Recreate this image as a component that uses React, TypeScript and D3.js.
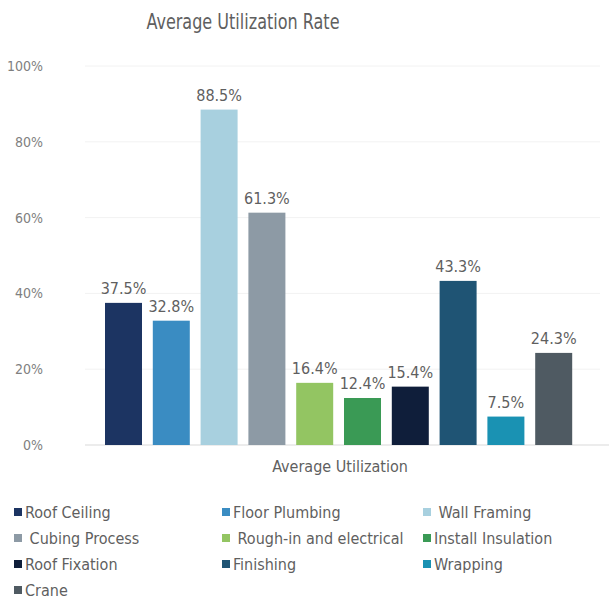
import React from "react";
import * as d3 from "d3";

const categories = [
  "Roof Ceiling",
  "Floor Plumbing",
  "Wall Framing",
  "Cubing Process",
  "Rough-in and electrical",
  "Install Insulation",
  "Roof Fixation",
  "Finishing",
  "Wrapping",
  "Crane",
];
const values = [37.5, 32.8, 88.5, 61.3, 16.4, 12.4, 15.4, 43.3, 7.5, 24.3];
const colors = [
  "#1c3462",
  "#3a8cc2",
  "#a8d0df",
  "#8d9aa5",
  "#93c562",
  "#3a9a55",
  "#0f1e3a",
  "#1f5474",
  "#1a92b3",
  "#4f5a62",
];
const yTicks = [0, 20, 40, 60, 80, 100];
const legendLabels = [
  "Roof Ceiling",
  "Floor Plumbing",
  " Wall Framing",
  " Cubing Process",
  " Rough-in and electrical",
  "Install Insulation",
  "Roof Fixation",
  "Finishing",
  "Wrapping",
  "Crane",
];

const FONT = "'Liberation Sans Narrow', 'DejaVu Sans Condensed', 'Liberation Sans', sans-serif";

export default function App() {
  const W = 609;
  const H = 602;
  const x = d3
    .scaleBand<string>()
    .domain(categories)
    .range([99.6, 577.6])
    .paddingInner(0.226)
    .paddingOuter(0.113);
  const y = d3.scaleLinear().domain([0, 100]).range([445, 66]);

  const legendCols = [14, 222, 423];
  const legendRows = [512, 538, 564, 590];

  return (
    <svg
      width={W}
      height={H}
      style={{ position: "absolute", left: 0, top: 0, background: "#fff" }}
      fontFamily={FONT}
    >
      <text
        x={243}
        y={29}
        textAnchor="middle"
        fontSize={22}
        fill="#5f5f5f"
        textLength={193}
        lengthAdjust="spacingAndGlyphs"
      >
        Average Utilization Rate
      </text>
      {yTicks.map((t) => (
        <g key={t}>
          {t > 0 && (
            <line x1={85} x2={600} y1={y(t)} y2={y(t)} stroke="#f2f2f2" strokeWidth={1} />
          )}
          <text
            x={43}
            y={y(t)}
            dy="0.35em"
            textAnchor="end"
            fontSize={14}
            fill="#7f7f7f"
          >
            {t}%
          </text>
        </g>
      ))}
      <line x1={85} x2={609} y1={y(0)} y2={y(0)} stroke="#d9d9d9" strokeWidth={1} />
      {categories.map((c, i) => (
        <g key={c}>
          <rect
            x={x(c)}
            y={y(values[i])}
            width={x.bandwidth()}
            height={y(0) - y(values[i])}
            fill={colors[i]}
          />
          <text
            x={(x(c) as number) + x.bandwidth() / 2}
            y={y(values[i]) - 9}
            textAnchor="middle"
            fontSize={16}
            fill="#5f5f5f"
          >
            {values[i].toFixed(1)}%
          </text>
        </g>
      ))}
      <text x={340} y={472} textAnchor="middle" fontSize={16} fill="#5f5f5f">
        Average Utilization
      </text>
      {legendLabels.map((l, i) => {
        const cx = legendCols[i % 3];
        const cy = legendRows[Math.floor(i / 3)];
        return (
          <g key={i}>
            <rect x={cx} y={cy - 4} width={8} height={8} fill={colors[i]} />
            <text x={cx + 11} y={cy} dy="0.35em" fontSize={16} fill="#5f5f5f" style={{ whiteSpace: "pre" }}>
              {l}
            </text>
          </g>
        );
      })}
    </svg>
  );
}
